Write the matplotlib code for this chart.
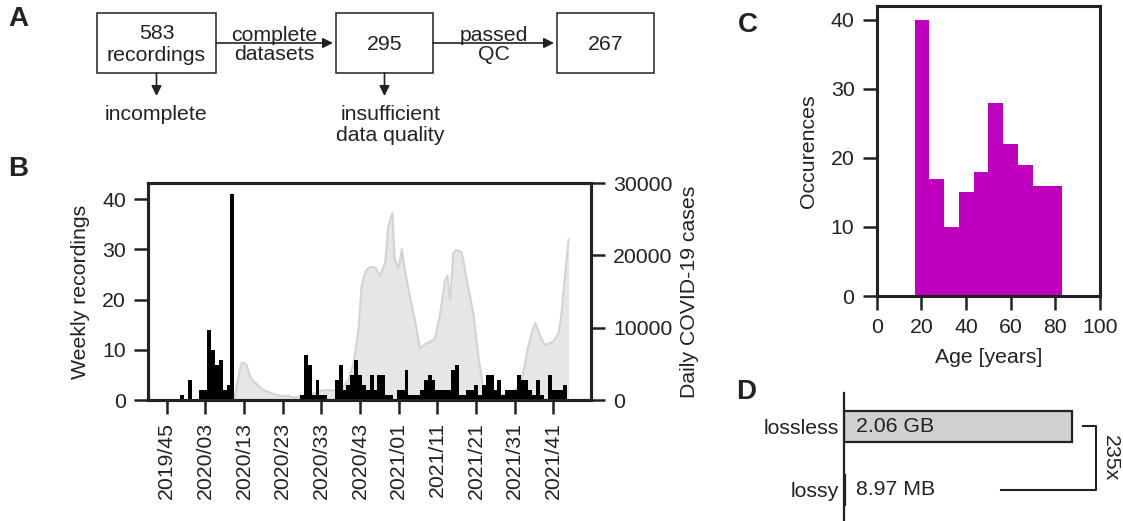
import numpy as np
import matplotlib.pyplot as plt
import matplotlib.patches as mpatches

plt.rcParams['font.family'] = ['Liberation Sans', 'DejaVu Sans']
plt.rcParams['font.size'] = 15.3
dark = '#222222'
plt.rcParams['text.color'] = dark
plt.rcParams['axes.labelcolor'] = dark
plt.rcParams['xtick.color'] = dark
plt.rcParams['ytick.color'] = dark
plt.rcParams['axes.edgecolor'] = dark

# ---------------- data ----------------
# A: flow of recordings
flow_box_text = ['583\nrecordings', '295', '267']
flow_steps = ['complete\ndatasets', 'passed\nQC']
flow_dropped = ['incomplete', 'insufficient\ndata quality']

# B: weekly recordings (one value per week, first week = 2019/45)
week_ticklabels = ['2019/45', '2020/03', '2020/13', '2020/23', '2020/33', '2020/43',
                   '2021/01', '2021/11', '2021/21', '2021/31', '2021/41']
weekly_recordings = [0, 0, 0, 0, 1, 0, 4, 0, 0, 2,
                     2, 14, 10, 7, 8, 2, 3, 41, 0, 0,
                     0, 0, 0, 0, 0, 0, 0, 0, 0, 0,
                     0, 0, 0, 0, 0, 1, 9, 7, 1, 4,
                     1, 1, 0, 0, 4, 7, 2, 3, 5, 8,
                     5, 3, 2, 5, 2, 5, 5, 1, 1, 0,
                     2, 2, 6, 1, 1, 1, 2, 4, 5, 4,
                     2, 2, 2, 2, 6, 7, 1, 1, 2, 2,
                     3, 1, 3, 5, 5, 2, 4, 1, 2, 2,
                     2, 5, 4, 4, 2, 1, 4, 1, 0, 5,
                     2, 2, 2, 3]
# daily COVID-19 cases (7-day mean), position in weeks since 2019/45
covid_week = [17.5, 18.1, 19.0, 19.4, 20.0, 20.7, 21.6, 22.4, 23.3, 24.1,
              25.0, 27.6, 30.0, 31.0, 31.5, 32.0, 32.8, 34.5, 36.0, 38.0,
              40.0, 41.5, 43.0, 44.5, 45.7, 47.0, 48.3, 49.0, 49.6, 50.4,
              51.0, 51.7, 52.6, 53.9, 55.2, 56.0, 56.5, 57.3, 58.0, 58.4,
              58.7, 59.0, 59.9, 60.4, 60.8, 61.6, 62.9, 64.2, 65.5, 66.3,
              67.2, 68.5, 69.4, 70.7, 72.0, 72.6, 73.3, 74.1, 74.8, 75.4,
              76.3, 77.6, 79.3, 80.6, 81.9, 83.6, 86.2, 88.8, 90.0, 91.4,
              92.3, 93.1, 94.5, 95.3, 96.0, 96.6, 97.8, 100.0, 101.3, 102.0,
              102.6, 103.4, 103.9]
covid_cases = [100, 1844, 4380, 5071, 5163, 4795, 3227, 2628, 2213, 1750,
               1383, 830, 553, 500, 650, 450, 370, 460, 690, 922,
               1290, 1380, 1290, 1500, 1844, 2800, 5071, 7500, 9681, 15674,
               17000, 17979, 18348, 18348, 17149, 18300, 18901, 23972, 25300, 25816,
               22000, 19362, 18210, 19500, 20837, 17979, 14291, 11064, 7146, 7500,
               7837, 8200, 8529, 11986, 16596, 17149, 13830, 20284, 20700, 20653,
               20400, 16596, 11986, 5993, 1383, 692, 553, 922, 1300, 2305,
               4000, 6454, 9500, 10603, 9700, 8759, 7607, 8068, 9220, 11500,
               15213, 19362, 22220]

# C: age histogram
age_edges = np.linspace(17, 83, 11)
age_counts = [40, 17, 10, 15, 18, 28, 22, 19, 16, 16]

# D: storage size
storage_labels = ['lossless', 'lossy']
storage_gb = [2.06, 8.97 / 1024]
storage_text = ['2.06 GB', '8.97 MB']
compression = '235x'

W, H = 1123, 521
fig = plt.figure(figsize=(W / 100, H / 100), dpi=100)


def style_axes(ax, lw=2.2):
    for s in ax.spines.values():
        s.set_linewidth(lw)
    ax.tick_params(direction='out', length=10, width=1.8, pad=6)


# ---------------- A ----------------
axA = fig.add_axes([0, 0, 1, 1])
axA.set_xlim(0, W)
axA.set_ylim(H, 0)
axA.axis('off')
box_x = [97, 336, 557]
box_w = [119, 97, 97]
box_y, box_h = 13, 60
mid = box_y + box_h / 2
arrow = dict(arrowstyle='-|>', lw=1.2, color=dark, mutation_scale=15, shrinkA=0, shrinkB=0)
for x, w, t in zip(box_x, box_w, flow_box_text):
    axA.add_patch(mpatches.Rectangle((x, box_y), w, box_h, fill=False, lw=1.1, ec=dark))
    axA.text(x + w / 2, mid + 1.5, t, ha='center', va='center', linespacing=1.15)
for k, t in enumerate(flow_steps):
    x0 = box_x[k] + box_w[k]
    x1 = box_x[k + 1] - 3
    axA.annotate('', xy=(x1, mid), xytext=(x0, mid), arrowprops=arrow)
    axA.text((x0 + x1) / 2, mid + 2, t, ha='center', va='center', linespacing=1.0)
for k, t in enumerate(flow_dropped):
    cx = box_x[k] + box_w[k] / 2
    axA.annotate('', xy=(cx, box_y + box_h + 23), xytext=(cx, box_y + box_h), arrowprops=arrow)
    axA.text(cx + 6 * k, box_y + box_h + 32, t, ha='center', va='top', linespacing=1.15)

# ---------------- B ----------------
axB = fig.add_axes([148 / W, 1 - 400 / H, 443 / W, 217 / H])
axB2 = axB.twinx()
axB2.fill_between(covid_week, covid_cases, color='#e6e6e6', lw=0)
axB2.plot(covid_week, covid_cases, color='#d3d3d3', lw=1.5)
axB2.set_ylim(0, 30000)
axB2.set_yticks([0, 10000, 20000, 30000])
axB2.set_ylabel('Daily COVID-19 cases', labelpad=5)

axB.bar(np.arange(len(weekly_recordings)), weekly_recordings, width=1.0, color='black', lw=0)
axB.set_zorder(axB2.get_zorder() + 1)
axB.patch.set_visible(False)
axB.set_xlim(-4.8, 109.7)
axB.set_ylim(0, 43.2)
axB.set_yticks([0, 10, 20, 30, 40])
axB.set_xticks(np.arange(0, 101, 10))
axB.set_xticklabels(week_ticklabels, rotation=90)
axB.set_ylabel('Weekly recordings', labelpad=9)
style_axes(axB)
style_axes(axB2)

# ---------------- C ----------------
axC = fig.add_axes([876.7 / W, 1 - 296 / H, 223.3 / W, 290 / H])
axC.bar(age_edges[:-1], age_counts, width=np.diff(age_edges), align='edge', color='m', lw=0)
axC.set_xlim(0, 100)
axC.set_ylim(0, 42)
axC.set_xticks([0, 20, 40, 60, 80, 100])
axC.set_yticks([0, 10, 20, 30, 40])
axC.set_xlabel('Age [years]', labelpad=8)
axC.set_ylabel('Occurences', labelpad=9)
style_axes(axC)

# ---------------- D ----------------
axD = fig.add_axes([844.3 / W, 0, 255.7 / W, 128 / H])
ypos = [1, 0]
axD.barh(ypos, storage_gb, height=0.48, color='#d0d0d0', edgecolor=dark, lw=1.6)
axD.set_xlim(0, 2.316)
axD.set_ylim(-0.487, 1.523)
for s in ['top', 'right', 'bottom']:
    axD.spines[s].set_visible(False)
axD.spines['left'].set_linewidth(1.6)
axD.set_xticks([])
axD.set_yticks(ypos)
axD.set_yticklabels(storage_labels)
axD.tick_params(axis='y', length=0, pad=4)
for y, t in zip(ypos, storage_text):
    axD.text(0.11, y, t, ha='left', va='center')
bx = storage_gb[0] * 1.107
axD.plot([storage_gb[0] * 0.69, bx, bx, storage_gb[0] * 1.048], [0, 0, 1, 1],
         color=dark, lw=1.5, clip_on=False)
axD.text(bx + 0.13, 0.5, compression, rotation=270, ha='center', va='center')

# panel letters
for letter, x, y in [('A', 18, 19), ('B', 18, 169), ('C', 748, 25), ('D', 746, 392)]:
    fig.text(x / W, 1 - y / H, letter, fontsize=20, fontweight='bold', ha='center', va='center')

fig.savefig('out.png', dpi=100)
